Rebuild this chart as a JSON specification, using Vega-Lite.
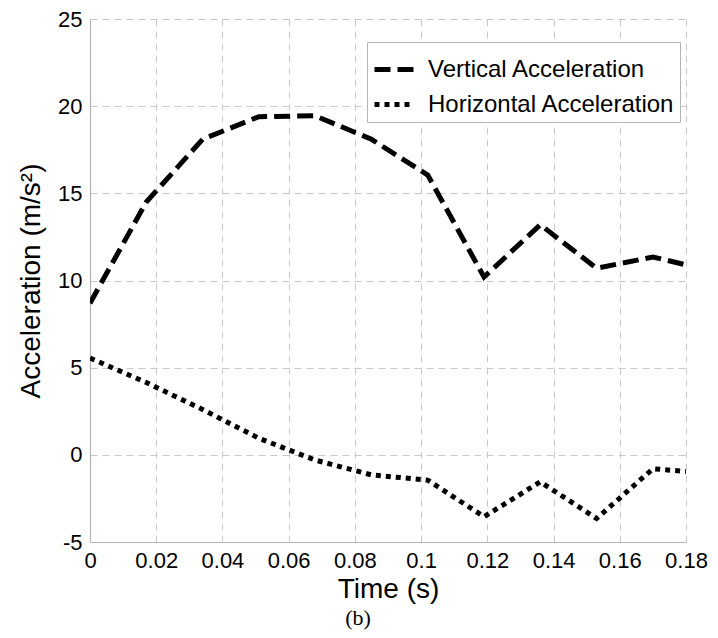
{
  "$schema": "https://vega.github.io/schema/vega-lite/v6.json",
  "width": 596,
  "height": 523,
  "padding": {"left": 17, "top": 8, "right": 5, "bottom": 5},
  "background": "white",
  "title": {
    "text": "(b)",
    "orient": "bottom",
    "anchor": "middle",
    "frame": "group",
    "dx": -30,
    "offset": 5,
    "font": "Liberation Serif",
    "fontSize": 22,
    "fontWeight": "normal",
    "color": "black"
  },
  "config": {
    "view": {"stroke": null},
    "font": "Liberation Sans",
    "axis": {
      "labelFont": "Liberation Sans",
      "labelFontSize": 22,
      "labelColor": "black",
      "titleFont": "Liberation Sans",
      "titleFontSize": 28,
      "titleFontWeight": "normal",
      "titleColor": "black",
      "ticks": false,
      "domainColor": "#b4b4b4",
      "domainWidth": 1.2,
      "grid": true,
      "gridColor": "#c8c8c8",
      "gridDash": [7, 5],
      "gridWidth": 1,
      "labelPadding": 8,
      "labelFlush": false,
      "labelOverlap": false
    }
  },
  "data": {
    "values": [
      {"series": "Vertical Acceleration", "time": 0, "accel": 8.7},
      {"series": "Vertical Acceleration", "time": 0.017, "accel": 14.5},
      {"series": "Vertical Acceleration", "time": 0.034, "accel": 18.1},
      {"series": "Vertical Acceleration", "time": 0.051, "accel": 19.4},
      {"series": "Vertical Acceleration", "time": 0.068, "accel": 19.45},
      {"series": "Vertical Acceleration", "time": 0.085, "accel": 18.1},
      {"series": "Vertical Acceleration", "time": 0.102, "accel": 16.05},
      {"series": "Vertical Acceleration", "time": 0.119, "accel": 10.2},
      {"series": "Vertical Acceleration", "time": 0.136, "accel": 13.2},
      {"series": "Vertical Acceleration", "time": 0.153, "accel": 10.7},
      {"series": "Vertical Acceleration", "time": 0.17, "accel": 11.35},
      {"series": "Vertical Acceleration", "time": 0.18, "accel": 10.9},
      {"series": "Horizontal Acceleration", "time": 0, "accel": 5.55},
      {"series": "Horizontal Acceleration", "time": 0.017, "accel": 4.15},
      {"series": "Horizontal Acceleration", "time": 0.034, "accel": 2.6},
      {"series": "Horizontal Acceleration", "time": 0.051, "accel": 0.95},
      {"series": "Horizontal Acceleration", "time": 0.068, "accel": -0.3},
      {"series": "Horizontal Acceleration", "time": 0.085, "accel": -1.15},
      {"series": "Horizontal Acceleration", "time": 0.102, "accel": -1.45},
      {"series": "Horizontal Acceleration", "time": 0.119, "accel": -3.55},
      {"series": "Horizontal Acceleration", "time": 0.136, "accel": -1.55},
      {"series": "Horizontal Acceleration", "time": 0.153, "accel": -3.65},
      {"series": "Horizontal Acceleration", "time": 0.17, "accel": -0.8},
      {"series": "Horizontal Acceleration", "time": 0.18, "accel": -0.95}
    ]
  },
  "mark": {"type": "line", "color": "black", "strokeWidth": 5, "strokeCap": "butt", "clip": true},
  "encoding": {
    "x": {
      "field": "time",
      "type": "quantitative",
      "title": "Time (s)",
      "scale": {"domain": [0, 0.18], "nice": false, "zero": false},
      "axis": {
        "values": [0, 0.02, 0.04, 0.06, 0.08, 0.1, 0.12, 0.14, 0.16, 0.18],
        "labelExpr": "datum.value + ''",
        "labelPadding": 8,
        "titlePadding": 4
      }
    },
    "y": {
      "field": "accel",
      "type": "quantitative",
      "title": "Acceleration (m/s²)",
      "scale": {"domain": [-5, 25], "nice": false},
      "axis": {
        "values": [-5, 0, 5, 10, 15, 20, 25],
        "labelExpr": "datum.value + ''",
        "titlePadding": 12
      }
    },
    "strokeDash": {
      "field": "series",
      "type": "nominal",
      "sort": ["Vertical Acceleration", "Horizontal Acceleration"],
      "scale": {
        "domain": ["Vertical Acceleration", "Horizontal Acceleration"],
        "range": [[16, 7], [5, 5]]
      },
      "legend": {
        "title": null,
        "orient": "none",
        "legendX": 277,
        "legendY": 23,
        "fillColor": "white",
        "strokeColor": "#b4b4b4",
        "padding": 5,
        "symbolType": "stroke",
        "symbolSize": 1600,
        "symbolStrokeWidth": 5,
        "symbolStrokeColor": "black",
        "labelFont": "Liberation Sans",
        "labelFontSize": 24,
        "labelColor": "black",
        "labelOffset": 11,
        "labelLimit": 400,
        "rowPadding": 0
      }
    }
  }
}
